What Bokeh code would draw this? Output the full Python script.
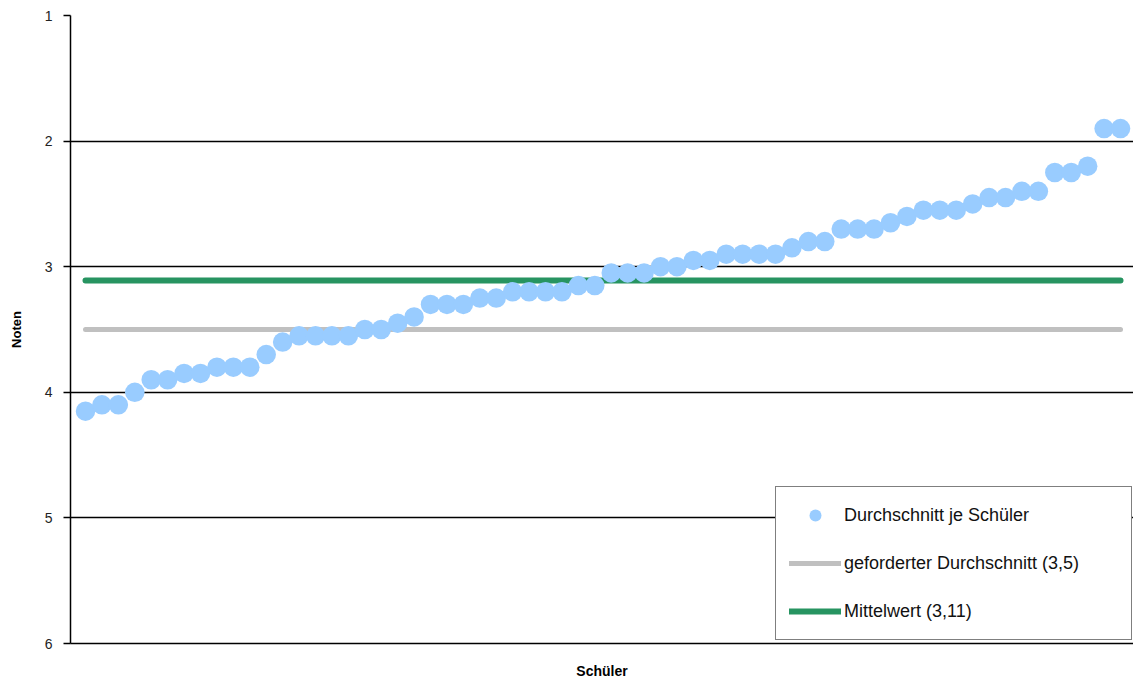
from bokeh.plotting import figure
from bokeh.models import Range1d, FixedTicker, Legend, LegendItem, ColumnDataSource
from bokeh.embed import file_html
from bokeh.resources import INLINE

# ---- data ----
schueler = list(range(1, 65))
durchschnitt = [
    4.15, 4.10, 4.10, 4.00, 3.90, 3.90, 3.85, 3.85, 3.80, 3.80, 3.80, 3.70,
    3.60, 3.55, 3.55, 3.55, 3.55, 3.50, 3.50, 3.45, 3.40, 3.30, 3.30, 3.30,
    3.25, 3.25, 3.20, 3.20, 3.20, 3.20, 3.15, 3.15, 3.05, 3.05, 3.05, 3.00,
    3.00, 2.95, 2.95, 2.90, 2.90, 2.90, 2.90, 2.85, 2.80, 2.80, 2.70, 2.70,
    2.70, 2.65, 2.60, 2.55, 2.55, 2.55, 2.50, 2.45, 2.45, 2.40, 2.40, 2.25,
    2.25, 2.20, 1.90, 1.90,
]
gefordert = 3.5
mittelwert = 3.11
y_ticks = [1, 2, 3, 4, 5, 6]
labels = ["Durchschnitt je Schüler", "geforderter Durchschnitt (3,5)", "Mittelwert (3,11)"]

src = ColumnDataSource(dict(
    x=schueler,
    y=durchschnitt,
    g=[gefordert] * len(schueler),
    m=[mittelwert] * len(schueler),
))

p = figure(width=1133, height=682, output_backend="svg", toolbar_location=None,
           x_range=Range1d(0.087, 64.79), y_range=Range1d(6, 1),
           min_border_left=70, min_border_right=0, min_border_top=15, min_border_bottom=39)
p.outline_line_color = None
p.background_fill_color = "white"
p.border_fill_color = "white"

r_g = p.line("x", "g", source=src, line_color="#C0C0C0", line_width=5, line_cap="round")
r_m = p.line("x", "m", source=src, line_color="#279461", line_width=6, line_cap="round")
r_p = p.scatter("x", "y", source=src, marker="circle", size=19.5,
                fill_color="#99CCFF", line_color=None)

# grid
p.xgrid.visible = False
p.ygrid.ticker = FixedTicker(ticks=y_ticks)
p.ygrid.grid_line_color = "black"
p.ygrid.grid_line_width = 1.5

# y axis
ya = p.yaxis[0]
ya.ticker = FixedTicker(ticks=y_ticks)
ya.minor_tick_line_color = None
ya.major_tick_in = 0
ya.major_tick_out = 7
ya.major_tick_line_width = 1.5
ya.axis_line_width = 1.5
ya.axis_line_color = "black"
ya.major_label_standoff = 11
ya.major_label_text_font = "Liberation Sans"
ya.major_label_text_font_size = "14px"
ya.major_label_text_color = "#222222"
ya.axis_label = "Noten"
ya.axis_label_text_font = "Liberation Sans"
ya.axis_label_text_font_size = "13px"
ya.axis_label_text_font_style = "bold"
ya.axis_label_text_color = "black"
ya.axis_label_standoff = 18

# x axis
xa = p.xaxis[0]
xa.ticker = FixedTicker(ticks=[])
xa.minor_tick_line_color = None
xa.major_tick_line_color = None
xa.major_tick_out = 0
xa.major_tick_in = 0
xa.axis_line_width = 1.5
xa.axis_line_color = "black"
xa.axis_label = "Schüler"
xa.axis_label_text_font = "Liberation Sans"
xa.axis_label_text_font_size = "14px"
xa.axis_label_text_font_style = "bold"
xa.axis_label_text_color = "black"
xa.axis_label_standoff = 19

legend = Legend(
    items=[LegendItem(label=labels[0], renderers=[r_p]),
           LegendItem(label=labels[1], renderers=[r_g]),
           LegendItem(label=labels[2], renderers=[r_m])],
    location=(705, 3),
    glyph_width=52, glyph_height=30, label_height=30, label_width=274,
    spacing=18, padding=13, label_standoff=3, margin=0,
    border_line_color="black", border_line_width=1.5,
    background_fill_color="white", background_fill_alpha=1,
    label_text_font="Liberation Sans", label_text_font_size="18px",
    label_text_color="#111111",
)
p.add_layout(legend)

open("out.html", "w").write(file_html(p, INLINE))
